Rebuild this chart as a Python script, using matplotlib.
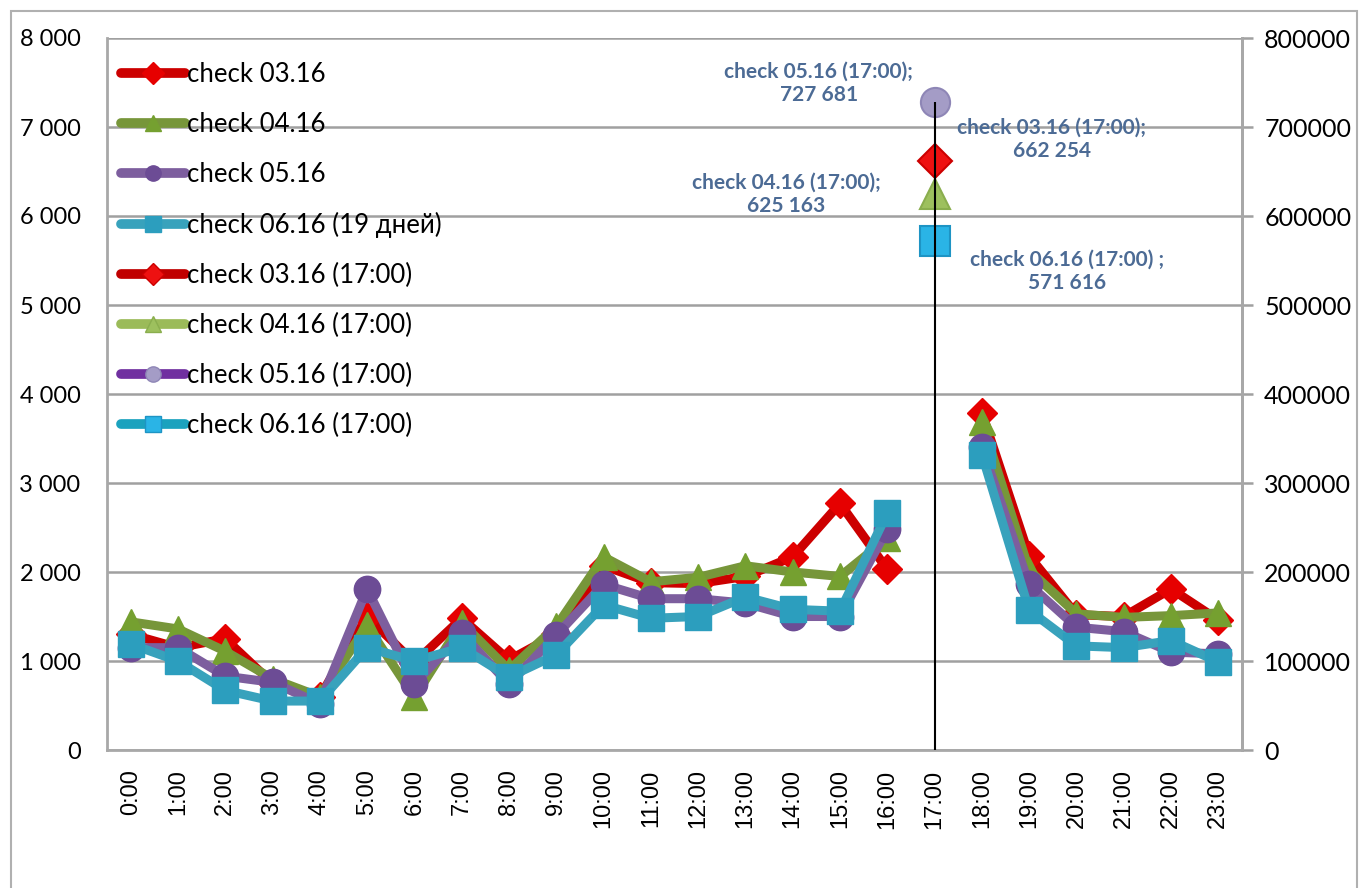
import numpy as np
import matplotlib
matplotlib.use("Agg")
import matplotlib.pyplot as plt
from matplotlib.lines import Line2D
from matplotlib.patches import Rectangle
from matplotlib.ticker import FuncFormatter, MultipleLocator

plt.rcParams['font.family'] = ['Lato', 'Open Sans', 'DejaVu Sans']

hours = [f"{h}:00" for h in range(24)]
nan = np.nan
check_03 = [1300, 1150, 1250, 750, 600, 1500, 980, 1480, 1010, 1300, 2070, 1880, 1870, 1950, 2170, 2770, 2030, nan, 3790, 2180, 1520, 1500, 1810, 1460]
check_04 = [1440, 1360, 1110, 800, 600, 1400, 590, 1430, 900, 1390, 2170, 1890, 1940, 2070, 2000, 1950, 2380, nan, 3690, 2020, 1530, 1490, 1510, 1540]
check_05 = [1150, 1150, 830, 760, 520, 1810, 740, 1310, 740, 1290, 1860, 1700, 1700, 1650, 1500, 1500, 2480, nan, 3400, 1860, 1380, 1330, 1100, 1080]
check_06 = [1190, 1000, 670, 550, 550, 1150, 1000, 1150, 820, 1070, 1630, 1480, 1500, 1720, 1580, 1560, 2660, nan, 3320, 1570, 1170, 1150, 1230, 990]
series_names = ["check 03.16", "check 04.16", "check 05.16", "check 06.16 (19 дней)"]
peak_names = ["check 03.16 (17:00)", "check 04.16 (17:00)", "check 05.16 (17:00)", "check 06.16 (17:00)"]
peak_values = [662254, 625163, 727681, 571616]
peak_labels = ["check 03.16 (17:00);\n662 254", "check 04.16 (17:00);\n625 163",
               "check 05.16 (17:00);\n727 681", "check 06.16 (17:00) ;\n571 616"]
peak_hour = 17

line_colors = ['#CC0000', '#77963A', '#7D5E9E', '#38A2BC']
marker_colors = ['#E60000', '#75A030', '#6C4C95', '#2C9EBE']
markers = ['D', '^', 'o', 's']
msizes = [15, 19, 19, 19]
peak_face = ['#EE1111', '#9DC05E', '#A49CC6', '#2AB4E6']
peak_edge = ['#CC0000', '#8AAE4E', '#8E86B6', '#1E94C4']
peak_line = ['#C00000', '#9BBB59', '#7030A0', '#1BA2BE']
peak_offsets = [(117, 21), (-148, -1), (-116, 19), (132, -30)]

fig = plt.figure(figsize=(13.6, 8.88), dpi=100)
fig.patches.append(Rectangle((11/1360, -0.05), (1357-11)/1360, 1-11/888+0.05,
                             transform=fig.transFigure, fill=False,
                             edgecolor='#B0B0B0', lw=1.5))
ax = fig.add_axes([107/1360, 1-750/888, (1242-107)/1360, (750-38)/888])
ax2 = ax.twinx()

x = np.arange(24)
data = [check_03, check_04, check_05, check_06]
for i, ys in enumerate(data):
    ax.plot(x, ys, color=line_colors[i], lw=6.5, marker=markers[i], ms=msizes[i],
            mfc=marker_colors[i], mec=marker_colors[i], zorder=3 + i,
            solid_joinstyle='round', solid_capstyle='round')

ax.set_xlim(-0.5, 23.5)
ax.set_ylim(0, 8000)
ax.yaxis.set_major_locator(MultipleLocator(1000))
ax.yaxis.set_major_formatter(FuncFormatter(lambda v, p: f"{int(v):,}".replace(",", " ")))
ax.set_xticks(x)
ax.set_xticklabels(hours, rotation=90, fontsize=17, family=['Liberation Sans'])
ax.tick_params(axis='x', length=0, pad=14)
ax.tick_params(axis='y', length=0, pad=19, labelsize=17)
ax.grid(axis='y', color='#A0A0A0', lw=1.8)
ax.set_axisbelow(True)
ax.spines['top'].set_visible(False)
for s in ['left', 'bottom', 'right']:
    ax.spines[s].set_color('#A8A8A8')
    ax.spines[s].set_linewidth(2)

ax2.set_ylim(0, 800000)
ax2.yaxis.set_major_locator(MultipleLocator(100000))
ax2.yaxis.set_major_formatter(FuncFormatter(lambda v, p: f"{int(v)}"))
ax2.tick_params(axis='y', length=8, width=1.8, color='#A0A0A0', pad=8, labelsize=18)
for s in ['top', 'left', 'bottom']:
    ax2.spines[s].set_visible(False)
ax2.spines['right'].set_color('#A8A8A8')
ax2.spines['right'].set_linewidth(2)

ax2.vlines(peak_hour, 0, max(peak_values), color='black', lw=1.5, zorder=10)
for i, v in enumerate(peak_values):
    ax2.plot([peak_hour], [v], marker=markers[i], ms=msizes[i] + 2, mfc=peak_face[i],
             mec=peak_edge[i], mew=1.5, ls='none', zorder=5)
    ax2.annotate(peak_labels[i], (peak_hour, v), xytext=peak_offsets[i],
                 textcoords='offset pixels', ha='center', va='center',
                 fontsize=15, fontweight='bold', color='#4C6B95', linespacing=1.2)

handles = []
for i in range(4):
    handles.append(Line2D([], [], color=line_colors[i], lw=7, marker=markers[i], ms=11,
                          mfc=marker_colors[i], mec=marker_colors[i], solid_capstyle='round'))
for i in range(4):
    handles.append(Line2D([], [], color=peak_line[i], lw=7, marker=markers[i], ms=11,
                          mfc=peak_face[i], mec=peak_edge[i], solid_capstyle='round'))
leg = ax2.legend(handles, series_names + peak_names, loc='upper left',
                 bbox_to_anchor=(14/1135, 1 - 24/712), borderaxespad=0, borderpad=0,
                 frameon=False, fontsize=18.5, handlelength=2.5, handletextpad=0.05,
                 labelspacing=0.97)
leg.set_zorder(20)

fig.savefig("out.png", dpi=100)
